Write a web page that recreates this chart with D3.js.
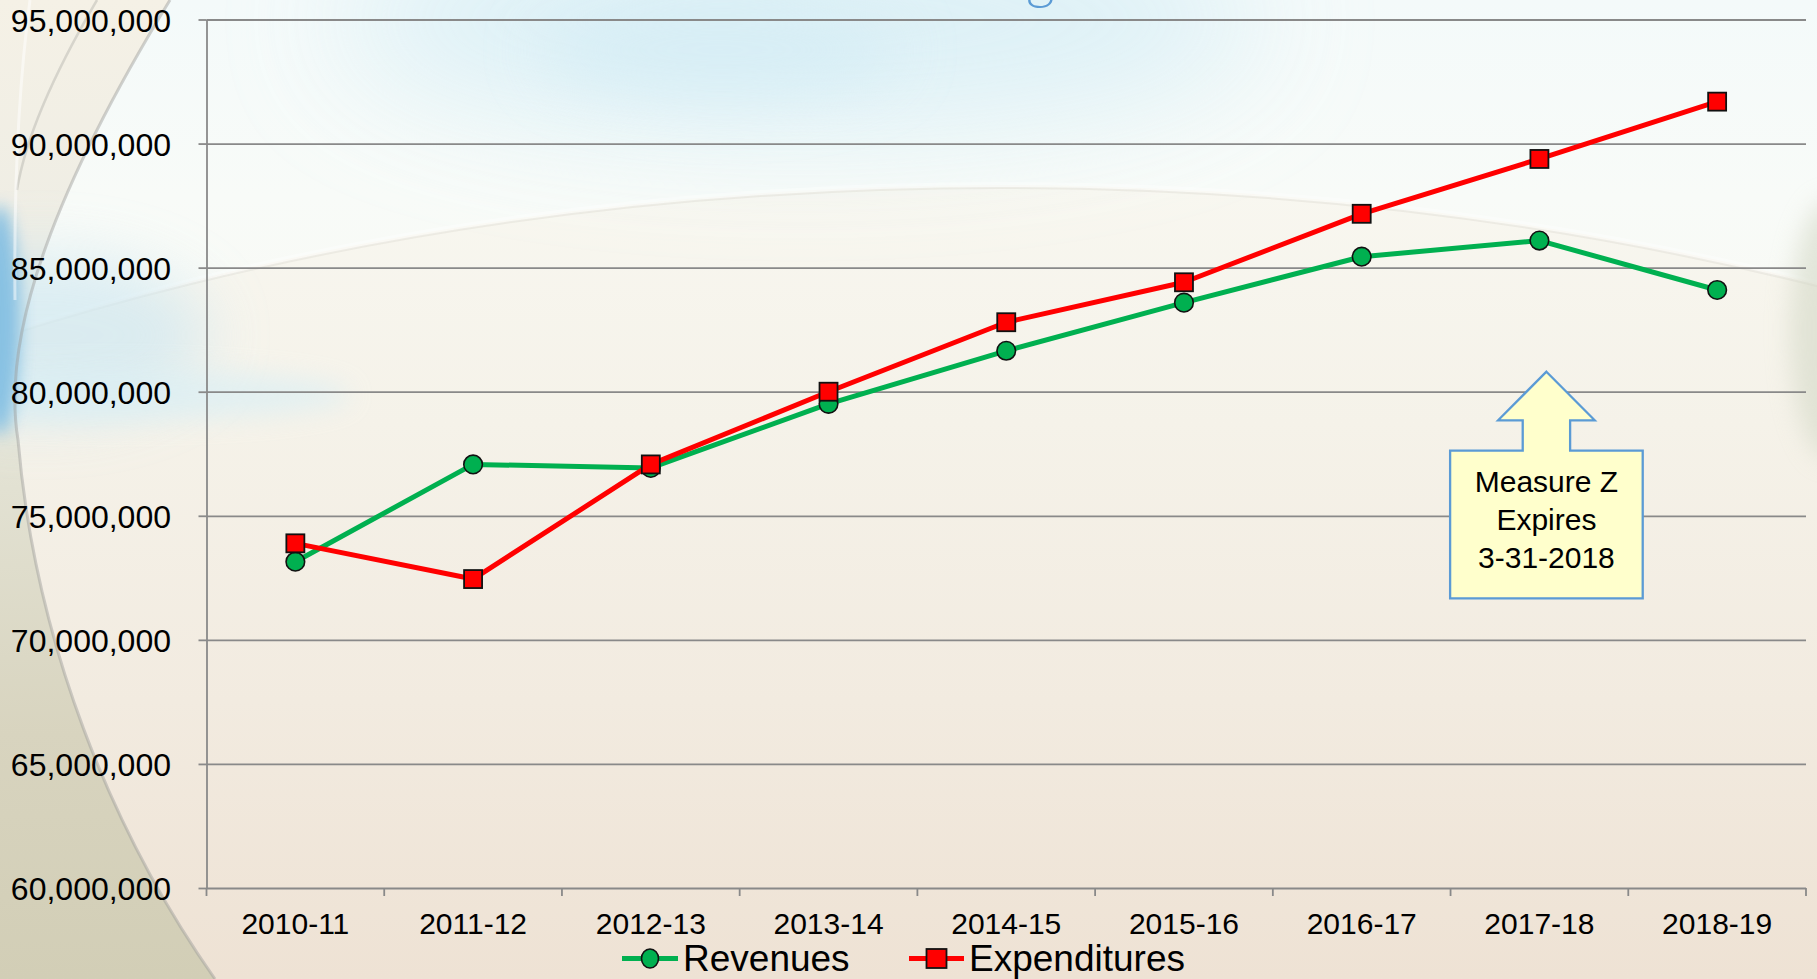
<!DOCTYPE html>
<html><head><meta charset="utf-8">
<script src="https://cdn.jsdelivr.net/npm/d3@7"></script>
<style>html,body{margin:0;padding:0;overflow:hidden;background:#f3efe6}svg{display:block}</style>
</head><body>
<svg id="chart" width="1817" height="979"></svg>
<script>
// ---------- DATA ----------
const categories = ["2010-11","2011-12","2012-13","2013-14","2014-15","2015-16","2016-17","2017-18","2018-19"];
const revenues = [73150000,77070000,76930000,79510000,81650000,83590000,85440000,86090000,84100000];
const expenditures = [73890000,72450000,77070000,80000000,82800000,84410000,87170000,89380000,91690000];
const yTicks = [60000000,65000000,70000000,75000000,80000000,85000000,90000000,95000000];
const seriesNames = ["Revenues","Expenditures"];
const annotationLines = ["Measure Z","Expires","3-31-2018"];
const titleText = "General Fund Budget Trends";

// ---------- SETUP ----------
const W = 1817, H = 979;
const svg = d3.select("#chart");
const defs = svg.append("defs");

function linGrad(id, stops, x1, y1, x2, y2, units) {
  const g = defs.append("linearGradient").attr("id", id)
    .attr("x1", x1).attr("y1", y1).attr("x2", x2).attr("y2", y2);
  if (units) g.attr("gradientUnits", units);
  stops.forEach(s => g.append("stop").attr("offset", s[0]).attr("stop-color", s[1]).attr("stop-opacity", s[2] == null ? 1 : s[2]));
}
function blur(id, sd) {
  defs.append("filter").attr("id", id).attr("filterUnits", "userSpaceOnUse")
    .attr("x", -400).attr("y", -400).attr("width", W + 800).attr("height", H + 800)
    .append("feGaussianBlur").attr("stdDeviation", sd);
}
blur("b8", 8); blur("b20", 20); blur("b60", 60); blur("b12", 12); blur("b30", 30);

// ---------- BACKGROUND ----------
linGrad("bgBase", [[0,"#f4fafa"],[0.2,"#f8fbf8"],[0.4,"#f9f9f3"],[1,"#f1e8dc"]], 0,0,0,1);
linGrad("bgLower", [[0,"#f8f7f0"],[0.3,"#f5f2e9"],[0.65,"#f2ebe0"],[1,"#eee2d4"]], 0,185,0,979,"userSpaceOnUse");
linGrad("leftRegion", [[0,"#f5f1e6"],[0.25,"#eeede4"],[0.5,"#e2e1d2"],[0.75,"#d8d4bf"],[1,"#d2ceb6"]], 0,0,0,979,"userSpaceOnUse");

svg.append("rect").attr("width", W).attr("height", H).attr("fill", "url(#bgBase)");
svg.append("ellipse").attr("cx", 1000).attr("cy", 1557).attr("rx", 2200).attr("ry", 1372)
  .attr("fill", "url(#bgLower)");
svg.append("ellipse").attr("cx", 800).attr("cy", 20).attr("rx", 460).attr("ry", 110)
  .attr("fill", "#d9eff6").attr("opacity", 0.85).attr("filter", "url(#b60)");
svg.append("ellipse").attr("cx", 720).attr("cy", 50).attr("rx", 180).attr("ry", 50)
  .attr("fill", "#d3ecf5").attr("opacity", 0.6).attr("filter", "url(#b30)");
svg.append("ellipse").attr("cx", 1000).attr("cy", 1557).attr("rx", 2200).attr("ry", 1372)
  .attr("fill", "none").attr("stroke", "#ffffff").attr("stroke-opacity", 0.35).attr("stroke-width", 6);
svg.append("ellipse").attr("cx", 1000).attr("cy", 1560).attr("rx", 2200).attr("ry", 1372)
  .attr("fill", "none").attr("stroke", "#dedbd3").attr("stroke-opacity", 0.45).attr("stroke-width", 2);
svg.append("ellipse").attr("cx", 1830).attr("cy", 330).attr("rx", 40).attr("ry", 130)
  .attr("fill", "#d3d8c6").attr("opacity", 0.6).attr("filter", "url(#b12)");
svg.append("path")
  .attr("d", "M0,0 L170,0 C60,180 0,330 18,440 C35,640 110,830 215,979 L0,979 Z")
  .attr("fill", "url(#leftRegion)");
svg.append("ellipse").attr("cx", 40).attr("cy", 335).attr("rx", 170).attr("ry", 80)
  .attr("fill", "#cfe8f2").attr("opacity", 0.7).attr("filter", "url(#b30)");
svg.append("ellipse").attr("cx", 110).attr("cy", 395).attr("rx", 240).attr("ry", 26)
  .attr("fill", "#d9eff5").attr("opacity", 0.65).attr("filter", "url(#b12)");
svg.append("ellipse").attr("cx", 0).attr("cy", 320).attr("rx", 20).attr("ry", 115)
  .attr("fill", "#80bde2").attr("opacity", 0.9).attr("filter", "url(#b8)");
svg.append("path").attr("d", "M170,0 C60,180 0,330 18,440 C35,640 110,830 215,979")
  .attr("fill", "none").attr("stroke", "#9c9c98").attr("stroke-opacity", 0.45).attr("stroke-width", 3);
svg.append("path").attr("d", "M97,0 C50,80 25,140 17,190")
  .attr("fill", "none").attr("stroke", "#a0a09c").attr("stroke-opacity", 0.35).attr("stroke-width", 2.5);
svg.append("path").attr("d", "M30,0 C18,90 14,200 15,300")
  .attr("fill", "none").attr("stroke", "#ffffff").attr("stroke-opacity", 0.5).attr("stroke-width", 3);

// ---------- TITLE (clipped at top in the original) ----------
const titleFont = "Lato, 'Open Sans', sans-serif";
const title = svg.append("text").attr("y", -2)
  .attr("font-family", titleFont).attr("font-weight", 300)
  .attr("font-size", 56).attr("fill", "#5b9bd5").text(titleText);
{
  const tmp = svg.append("text").attr("font-family", titleFont).attr("font-weight", 300)
    .attr("font-size", 56).text(titleText.slice(0, titleText.indexOf("g")));
  const pw = tmp.node().getComputedTextLength();
  tmp.remove();
  title.attr("x", 1026 - pw);
}

// ---------- SCALES ----------
const plotL = 206.5, plotR = 1806, plotT = 19.5, plotB = 888;
const x = d3.scalePoint().domain(categories).range([plotL, plotR]).padding(0.5);
const xb = d3.scaleBand().domain(categories).range([plotL, plotR]).padding(0);
const y = d3.scaleLinear().domain([60000000, 95000000]).range([plotB, plotT]);

const gridColor = "#898989";
const font = "'Liberation Sans', Arial, sans-serif";

const grid = svg.append("g").attr("transform", `translate(${plotL},0)`)
  .call(d3.axisLeft(y).tickValues(yTicks).tickSize(-(plotR - plotL)).tickFormat(""));
grid.select(".domain").remove();
grid.selectAll("line").attr("stroke", gridColor).attr("stroke-width", 1.8);

const yAxis = svg.append("g").attr("transform", `translate(${plotL},0)`)
  .call(d3.axisLeft(y).tickValues(yTicks).tickSize(8).tickSizeOuter(0).tickPadding(27.5).tickFormat(d3.format(",")));
yAxis.select(".domain").attr("stroke", gridColor).attr("stroke-width", 1.8);
yAxis.selectAll("line").attr("stroke", gridColor).attr("stroke-width", 1.8);
yAxis.selectAll("text").attr("font-family", font).attr("font-size", 32).attr("fill", "#000").attr("dy", "0.36em");

const xAxis = svg.append("g").attr("transform", `translate(0,${plotB})`)
  .call(d3.axisBottom(xb).tickSize(0).tickPadding(24.7));
xAxis.select(".domain").remove();
xAxis.selectAll("text").attr("font-family", font).attr("font-size", 30).attr("fill", "#000");
const edges = categories.map(c => xb(c)).concat([plotR]);
svg.append("g").selectAll("line").data(edges).join("line")
  .attr("x1", d => d).attr("x2", d => d).attr("y1", plotB).attr("y2", plotB + 8)
  .attr("stroke", gridColor).attr("stroke-width", 1.8);

// ---------- SERIES ----------
const green = "#00b050", red = "#ff0000";
const line = d3.line().x((d, i) => x(categories[i])).y(d => y(d));

svg.append("path").datum(revenues).attr("d", line).attr("fill", "none")
  .attr("stroke", green).attr("stroke-width", 5).attr("stroke-linejoin", "round");
svg.append("g").selectAll("circle").data(revenues).join("circle")
  .attr("cx", (d, i) => x(categories[i])).attr("cy", d => y(d)).attr("r", 9.3)
  .attr("fill", green).attr("stroke", "#111").attr("stroke-width", 1.6);

svg.append("path").datum(expenditures).attr("d", line).attr("fill", "none")
  .attr("stroke", red).attr("stroke-width", 5).attr("stroke-linejoin", "round");
const sq = 18;
svg.append("g").selectAll("rect").data(expenditures).join("rect")
  .attr("x", (d, i) => x(categories[i]) - sq / 2).attr("y", d => y(d) - sq / 2)
  .attr("width", sq).attr("height", sq)
  .attr("fill", red).attr("stroke", "#111").attr("stroke-width", 1.8);

// ---------- ANNOTATION ----------
const ax = x("2017-18") + 7;
const tipY = 371.7, headY = 420.3, boxT = 450.7, boxB = 598.3;
const boxHW = 96.3, shaftHW = 23.7, headHW = 48.3;
const pts = [
  [ax, tipY], [ax + headHW, headY], [ax + shaftHW, headY], [ax + shaftHW, boxT],
  [ax + boxHW, boxT], [ax + boxHW, boxB], [ax - boxHW, boxB], [ax - boxHW, boxT],
  [ax - shaftHW, boxT], [ax - shaftHW, headY], [ax - headHW, headY]
];
svg.append("path").attr("d", d3.line()(pts) + "Z")
  .attr("fill", "#ffffcc").attr("stroke", "#5b9bd5").attr("stroke-width", 2.3).attr("stroke-linejoin", "miter");
svg.append("g").selectAll("text").data(annotationLines).join("text")
  .attr("x", ax).attr("y", (d, i) => 491.7 + i * 38.3)
  .attr("text-anchor", "middle").attr("font-family", font).attr("font-size", 30).attr("fill", "#000")
  .text(d => d);

// ---------- LEGEND ----------
const legendY = 958.5;
const legendItems = [
  { name: seriesNames[0], color: green, x0: 622, x1: 678, textX: 683, shape: "circle" },
  { name: seriesNames[1], color: red, x0: 909, x1: 964, textX: 969, shape: "rect" }
];
const lg = svg.append("g").selectAll("g").data(legendItems).join("g");
lg.append("line").attr("x1", d => d.x0).attr("x2", d => d.x1).attr("y1", legendY).attr("y2", legendY)
  .attr("stroke", d => d.color).attr("stroke-width", 5);
lg.filter(d => d.shape === "circle").append("ellipse")
  .attr("cx", d => (d.x0 + d.x1) / 2).attr("cy", legendY).attr("rx", 8.5).attr("ry", 9.5)
  .attr("fill", d => d.color).attr("stroke", "#111").attr("stroke-width", 1.6);
lg.filter(d => d.shape === "rect").append("rect")
  .attr("x", d => (d.x0 + d.x1) / 2 - 10).attr("y", legendY - 9.5).attr("width", 20).attr("height", 19)
  .attr("fill", d => d.color).attr("stroke", "#111").attr("stroke-width", 1.8);
lg.append("text").attr("x", d => d.textX).attr("y", 971)
  .attr("font-family", font).attr("font-size", 37).attr("fill", "#000").text(d => d.name);
</script>
</body></html>
